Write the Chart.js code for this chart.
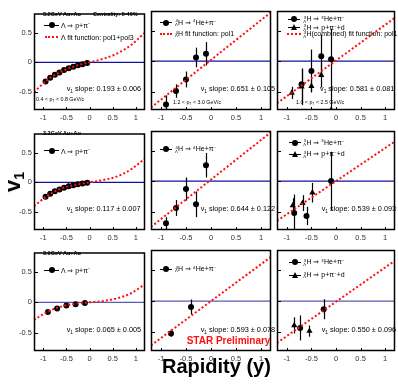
<!DOCTYPE html>
<html>
<head>
<meta charset="utf-8">
<script src="https://cdn.jsdelivr.net/npm/chart.js@4"></script>
<style>
body{margin:0;width:398px;height:385px;position:relative;overflow:hidden;background:#fff;font-family:'Liberation Sans',Arial,sans-serif}
canvas{position:absolute}
.t{position:absolute;white-space:nowrap;transform:translateY(-50%);line-height:1;color:#000}
.sl{font-size:7.3px}
.lg{font-size:7px}
.hd{font-size:5.5px;font-weight:bold}
.pt{font-size:5.3px}
.n{display:inline-block;vertical-align:-0.3em;font-size:0.6em;line-height:0.85;text-align:right;margin-right:0.3px}
.n b{display:block;font-weight:normal}
sup{font-size:0.6em;vertical-align:0.5em;line-height:0}
sub{font-size:0.65em;vertical-align:-0.3em;line-height:0}
.sym{position:absolute}
</style>
</head>
<body>
<script>
// ---- DATA ----
const X_TICKS = [-1, -0.5, 0, 0.5, 1];
const Y_TICKS = [-0.5, 0, 0.5];
const X_RANGE = [-1.2, 1.2];
const Y_RANGE = [-0.8, 0.82];
const ZERO_Y = [0, 0];

// Lambda -> p + pi-
const LAM_X_32 = [-0.95, -0.85, -0.75, -0.65, -0.55, -0.45, -0.35, -0.25, -0.15, -0.05];
const LAM_V1_R1 = [-0.32, -0.26, -0.21, -0.17, -0.13, -0.10, -0.075, -0.05, -0.03, -0.01];
const LAM_V1_R2 = [-0.24, -0.19, -0.15, -0.12, -0.09, -0.067, -0.047, -0.031, -0.018, -0.006];
const LAM_X_39 = [-0.9, -0.7, -0.5, -0.3, -0.1];
const LAM_V1_R3 = [-0.16, -0.10, -0.05, -0.03, -0.01];

// Lambda fit (pol1+pol3)
const CURVE_X = [-1.2, -0.9, -0.6, -0.3, 0, 0.3, 0.6, 0.9, 1.2];
const LAM_FIT_R1 = [-0.50, -0.29, -0.15, -0.06, 0, 0.06, 0.15, 0.29, 0.50];
const LAM_FIT_R2 = [-0.40, -0.22, -0.10, -0.04, 0, 0.04, 0.10, 0.22, 0.40];
const LAM_FIT_R3 = [-0.29, -0.15, -0.067, -0.023, 0, 0.023, 0.067, 0.15, 0.30];

// 4LH -> 4He + pi-
const H4_X = [-0.9, -0.7, -0.5, -0.3, -0.1];
const H4_V1_R1 = [-0.71, -0.49, -0.30, 0.06, 0.12];
const H4_ERR_R1 = [0.15, 0.11, 0.13, 0.16, 0.19];
const H4_V1_R2 = [-0.69, -0.44, -0.13, -0.38, 0.26];
const H4_ERR_R2 = [0.10, 0.13, 0.19, 0.21, 0.20];
const H4_X_R3 = [-0.8, -0.4];
const H4_V1_R3 = [-0.52, -0.095];
const H4_ERR_R3 = [0.05, 0.12];
const LINE_X = [-1.2, 1.2];
const H4_FIT_R1 = [-0.76, 0.80];
const H4_FIT_R2 = [-0.75, 0.80];
const H4_FIT_R3 = [-0.71, 0.71];

// 3LH -> 3He + pi- (circles), 3LH -> p + pi- + d (triangles)
const H3A_X_R1 = [-0.7, -0.5, -0.3, -0.1];
const H3A_V1_R1 = [-0.38, -0.16, 0.08, 0.03];
const H3A_ERR_R1 = [0.25, 0.35, 0.35, 0.5];
const H3B_X_R1 = [-0.9, -0.7, -0.5, -0.3, -0.1];
const H3B_V1_R1 = [-0.52, -0.42, -0.41, -0.23, -0.80];
const H3B_ERR_R1 = [0.10, 0.30, 0.10, 0.20, 0.35];
const H3A_X_R2 = [-0.85, -0.6, -0.1];
const H3A_V1_R2 = [-0.52, -0.57, 0.0];
const H3A_ERR_R2 = [0.30, 0.15, 0.48];
const H3B_X_R2 = [-0.88, -0.68, -0.48];
const H3B_V1_R2 = [-0.40, -0.36, -0.19];
const H3B_ERR_R2 = [0.12, 0.13, 0.16];
const H3A_X_R3 = [-0.73, -0.25];
const H3A_V1_R3 = [-0.43, -0.13];
const H3A_ERR_R3 = [0.20, 0.16];
const H3B_X_R3 = [-0.85, -0.54];
const H3B_V1_R3 = [-0.39, -0.48];
const H3B_ERR_R3 = [0.13, 0.09];
const H3_FIT_R1 = [-0.69, 0.71];
const H3_FIT_R2 = [-0.65, 0.65];
const H3_FIT_R3 = [-0.67, 0.65];

// ---- LAYOUT ----
const COLS = [{l: 34, r: 147}, {l: 147, r: 273}, {l: 273, r: 397}];
const ROWS = [{t: 9, b: 110}, {t: 129, b: 230}, {t: 248, b: 351}];
const FONT = "'Liberation Sans', Arial, sans-serif";

const pts = (xs, ys) => xs.map((x, i) => ({x, y: ys[i]}));

function markers(xs, ys, errs, style) {
  return {
    type: 'scatter', data: pts(xs, ys), errors: errs,
    pointStyle: style, pointRadius: style === 'triangle' ? 3.6 : 3,
    backgroundColor: '#000', borderColor: '#000', borderWidth: 0, order: 1
  };
}
function fit(xs, ys) {
  return {
    type: 'line', data: pts(xs, ys), borderColor: '#ff1010', borderWidth: 2,
    borderDash: [2, 2.2], pointRadius: 0, cubicInterpolationMode: 'monotone', order: 0
  };
}
function zero(row) {
  return {
    type: 'line', data: pts(X_RANGE, ZERO_Y), borderColor: row === 2 ? '#5a5ab4' : '#1212a2',
    borderWidth: 1.2, pointRadius: 0, order: 2
  };
}

const errorBars = {
  id: 'errorBars',
  afterDatasetDraw(chart, args) {
    const ds = chart.data.datasets[args.index];
    if (!ds.errors) return;
    const {ctx, chartArea: a, scales: {x, y}} = chart;
    ctx.save();
    ctx.beginPath(); ctx.rect(a.left, a.top, a.right - a.left, a.bottom - a.top); ctx.clip();
    ctx.strokeStyle = '#000'; ctx.lineWidth = 1.2;
    ds.data.forEach((p, i) => {
      const px = Math.round(x.getPixelForValue(p.x)) + 0.5;
      ctx.beginPath();
      ctx.moveTo(px, y.getPixelForValue(p.y - ds.errors[i]));
      ctx.lineTo(px, y.getPixelForValue(p.y + ds.errors[i]));
      ctx.stroke();
    });
    ctx.restore();
  }
};

const frame = {
  id: 'frame',
  afterDraw(chart) {
    const {ctx, chartArea: a, scales: {x, y}} = chart;
    ctx.save();
    ctx.strokeStyle = '#000'; ctx.lineWidth = 1.5;
    ctx.strokeRect(a.left + 0.5, a.top + 0.5, a.right - a.left - 1, a.bottom - a.top - 1);
    ctx.lineWidth = 1;
    ctx.beginPath();
    X_TICKS.forEach(v => {
      const px = Math.round(x.getPixelForValue(v)) + 0.5;
      ctx.moveTo(px, a.bottom); ctx.lineTo(px, a.bottom - 3);
    });
    Y_TICKS.forEach(v => {
      const py = Math.round(y.getPixelForValue(v)) + 0.5;
      ctx.moveTo(a.left, py); ctx.lineTo(a.left + 4, py);
    });
    ctx.stroke();
    ctx.restore();
  }
};

function makePanel(row, col, datasets) {
  const c = COLS[col], r = ROWS[row];
  const padL = col === 0 ? 34 : 0, padT = 2, padR = 2, padB = 14;
  const cv = document.createElement('canvas');
  const w = c.r - c.l + padL + padR, h = r.b - r.t + padT + padB;
  cv.width = w; cv.height = h;
  cv.style.left = (c.l - padL) + 'px'; cv.style.top = (r.t - padT) + 'px';
  cv.style.width = w + 'px'; cv.style.height = h + 'px';
  document.body.appendChild(cv);
  new Chart(cv.getContext('2d'), {
    type: 'scatter',
    data: {datasets: [zero(row), ...datasets]},
    plugins: [errorBars, frame],
    options: {
      responsive: false, animation: false, devicePixelRatio: 1,
      layout: {padding: {top: padT, right: padR, left: 0, bottom: 0}},
      plugins: {legend: {display: false}, tooltip: {enabled: false}},
      scales: {
        x: {
          type: 'linear', min: X_RANGE[0], max: X_RANGE[1],
          afterBuildTicks: s => { s.ticks = X_TICKS.map(value => ({value})); },
          afterFit: s => { s.height = padB; },
          grid: {display: false, drawTicks: false}, border: {display: false},
          ticks: {color: '#333', padding: 3, maxRotation: 0, autoSkip: false,
                  font: {family: FONT, size: 7.5}, callback: v => String(v)}
        },
        y: {
          type: 'linear', min: Y_RANGE[0], max: Y_RANGE[1], display: col === 0,
          afterBuildTicks: s => { s.ticks = Y_TICKS.map(value => ({value})); },
          afterFit: s => { s.width = padL; },
          grid: {display: false, drawTicks: false}, border: {display: false},
          ticks: {color: '#333', padding: 2, font: {family: FONT, size: 7.5}, callback: v => String(v)}
        }
      }
    }
  });
}

// ---- PANELS ----
makePanel(0, 0, [markers(LAM_X_32, LAM_V1_R1, null, 'circle'), fit(CURVE_X, LAM_FIT_R1)]);
makePanel(1, 0, [markers(LAM_X_32, LAM_V1_R2, null, 'circle'), fit(CURVE_X, LAM_FIT_R2)]);
makePanel(2, 0, [markers(LAM_X_39, LAM_V1_R3, null, 'circle'), fit(CURVE_X, LAM_FIT_R3)]);
makePanel(0, 1, [markers(H4_X, H4_V1_R1, H4_ERR_R1, 'circle'), fit(LINE_X, H4_FIT_R1)]);
makePanel(1, 1, [markers(H4_X, H4_V1_R2, H4_ERR_R2, 'circle'), fit(LINE_X, H4_FIT_R2)]);
makePanel(2, 1, [markers(H4_X_R3, H4_V1_R3, H4_ERR_R3, 'circle'), fit(LINE_X, H4_FIT_R3)]);
makePanel(0, 2, [markers(H3A_X_R1, H3A_V1_R1, H3A_ERR_R1, 'circle'),
                 markers(H3B_X_R1, H3B_V1_R1, H3B_ERR_R1, 'triangle'), fit(LINE_X, H3_FIT_R1)]);
makePanel(1, 2, [markers(H3A_X_R2, H3A_V1_R2, H3A_ERR_R2, 'circle'),
                 markers(H3B_X_R2, H3B_V1_R2, H3B_ERR_R2, 'triangle'), fit(LINE_X, H3_FIT_R2)]);
makePanel(2, 2, [markers(H3A_X_R3, H3A_V1_R3, H3A_ERR_R3, 'circle'),
                 markers(H3B_X_R3, H3B_V1_R3, H3B_ERR_R3, 'triangle'), fit(LINE_X, H3_FIT_R3)]);

// ---- TEXT ----
function text(html, x, y, cls, extra) {
  const d = document.createElement('div');
  d.className = 't ' + cls;
  d.innerHTML = html;
  d.style.left = x + 'px'; d.style.top = y + 'px';
  if (extra) Object.assign(d.style, extra);
  document.body.appendChild(d);
}
function sym(kind, x0, x1, y) {
  const add = (css) => { const d = document.createElement('div'); d.className = 'sym'; Object.assign(d.style, css); document.body.appendChild(d); };
  const cx = (x0 + x1) / 2;
  if (kind === 'fit') {
    add({left: x0 + 'px', top: (y - 1) + 'px', width: (x1 - x0) + 'px', height: '0', borderTop: '2px dotted #ff1010'});
    return;
  }
  add({left: x0 + 'px', top: (y - 0.5) + 'px', width: (x1 - x0) + 'px', height: '1px', background: '#000'});
  if (kind === 'circle') add({left: (cx - 3) + 'px', top: (y - 3) + 'px', width: '6px', height: '6px', borderRadius: '50%', background: '#000'});
  else add({left: (cx - 3.5) + 'px', top: (y - 3.5) + 'px', width: '0', height: '0',
            borderLeft: '3.5px solid transparent', borderRight: '3.5px solid transparent', borderBottom: '6px solid #000'});
}

const LAM = 'Λ ⇒ p+π<sup>−</sup>';
const H4 = '<span class="n"><b>4</b><b>Λ</b></span>H ⇒ <span class="n"><b>4</b><b>&nbsp;</b></span>He+π<sup>−</sup>';
const H3A = '<span class="n"><b>3</b><b>Λ</b></span>H ⇒ <span class="n"><b>3</b><b>&nbsp;</b></span>He+π<sup>−</sup>';
const H3B = '<span class="n"><b>3</b><b>Λ</b></span>H ⇒ p+π<sup>−</sup>+d';

// column 1
text('3.2GeV Au+Au', 43, 15, 'hd');
text('Centrality: 5-40%', 93, 15, 'hd');
sym('circle', 44, 59, 25); text(LAM, 61, 25, 'lg');
sym('fit', 45, 58, 37.3); text('Λ fit function: pol1+pol3', 61, 37.3, 'lg');
text('v<sub>1</sub> slope: 0.193 ± 0.006', 66.7, 89.3, 'sl');
text('0.4 &lt; p<sub>T</sub> &lt; 0.8 GeV/c', 36, 99.5, 'pt');
text('3.2GeV Au+Au', 43, 134, 'hd');
sym('circle', 44, 59, 150.7); text(LAM, 61, 150.7, 'lg');
text('v<sub>1</sub> slope: 0.117 ± 0.007', 66.7, 209.3, 'sl');
text('3.9GeV Au+Au', 43, 254.3, 'hd');
sym('circle', 44, 59, 270); text(LAM, 61, 270, 'lg');
text('v<sub>1</sub> slope: 0.065 ± 0.005', 66.7, 330, 'sl');

// column 2
sym('circle', 160, 172, 22.7); text(H4, 175, 22.7, 'lg');
sym('fit', 160, 172, 34); text('<span class="n"><b>4</b><b>Λ</b></span>H fit function: pol1', 175, 34, 'lg');
text('v<sub>1</sub> slope: 0.651 ± 0.105', 200.7, 89, 'sl');
text('1.2 &lt; p<sub>T</sub> &lt; 3.0 GeV/c', 173, 103.3, 'pt');
sym('circle', 160, 172, 149.3); text(H4, 175, 149.3, 'lg');
text('v<sub>1</sub> slope: 0.644 ± 0.122', 200.7, 209.3, 'sl');
sym('circle', 160, 172, 269); text(H4, 175, 269, 'lg');
text('v<sub>1</sub> slope: 0.593 ± 0.078', 200.7, 330, 'sl');
text('STAR Preliminary', 186.7, 341, '', {fontSize: '10px', fontWeight: 'bold', color: '#ff1010'});

// column 3
sym('circle', 288, 300, 19.3); text(H3A, 303.3, 19.3, 'lg');
sym('triangle', 288, 300, 27.7); text(H3B, 303.3, 27.7, 'lg');
sym('fit', 287, 301, 34.3); text('<span class="n"><b>3</b><b>Λ</b></span>H(combined) fit function: pol1', 303.3, 34.3, 'lg');
text('v<sub>1</sub> slope: 0.581 ± 0.081', 320, 89, 'sl');
text('1.0 &lt; p<sub>T</sub> &lt; 2.5 GeV/c', 296, 103.3, 'pt');
sym('circle', 289, 301, 142.7); text(H3A, 303.3, 142.7, 'lg');
sym('triangle', 289, 301, 154.3); text(H3B, 303.3, 154.3, 'lg');
text('v<sub>1</sub> slope: 0.539 ± 0.093', 321.7, 209.3, 'sl');
sym('circle', 289, 301, 262.3); text(H3A, 303.3, 262.3, 'lg');
sym('triangle', 289, 301, 275); text(H3B, 303.3, 275, 'lg');
text('v<sub>1</sub> slope: 0.550 ± 0.096', 321.7, 330, 'sl');

// axis titles
text('Rapidity (y)', 162, 366, '', {fontSize: '20px', fontWeight: 'bold'});
text('v<sub>1</sub>', 13, 182, '', {fontSize: '22px', fontWeight: 'bold', transform: 'translate(-50%,-50%) rotate(-90deg)'});
</script>
</body>
</html>
